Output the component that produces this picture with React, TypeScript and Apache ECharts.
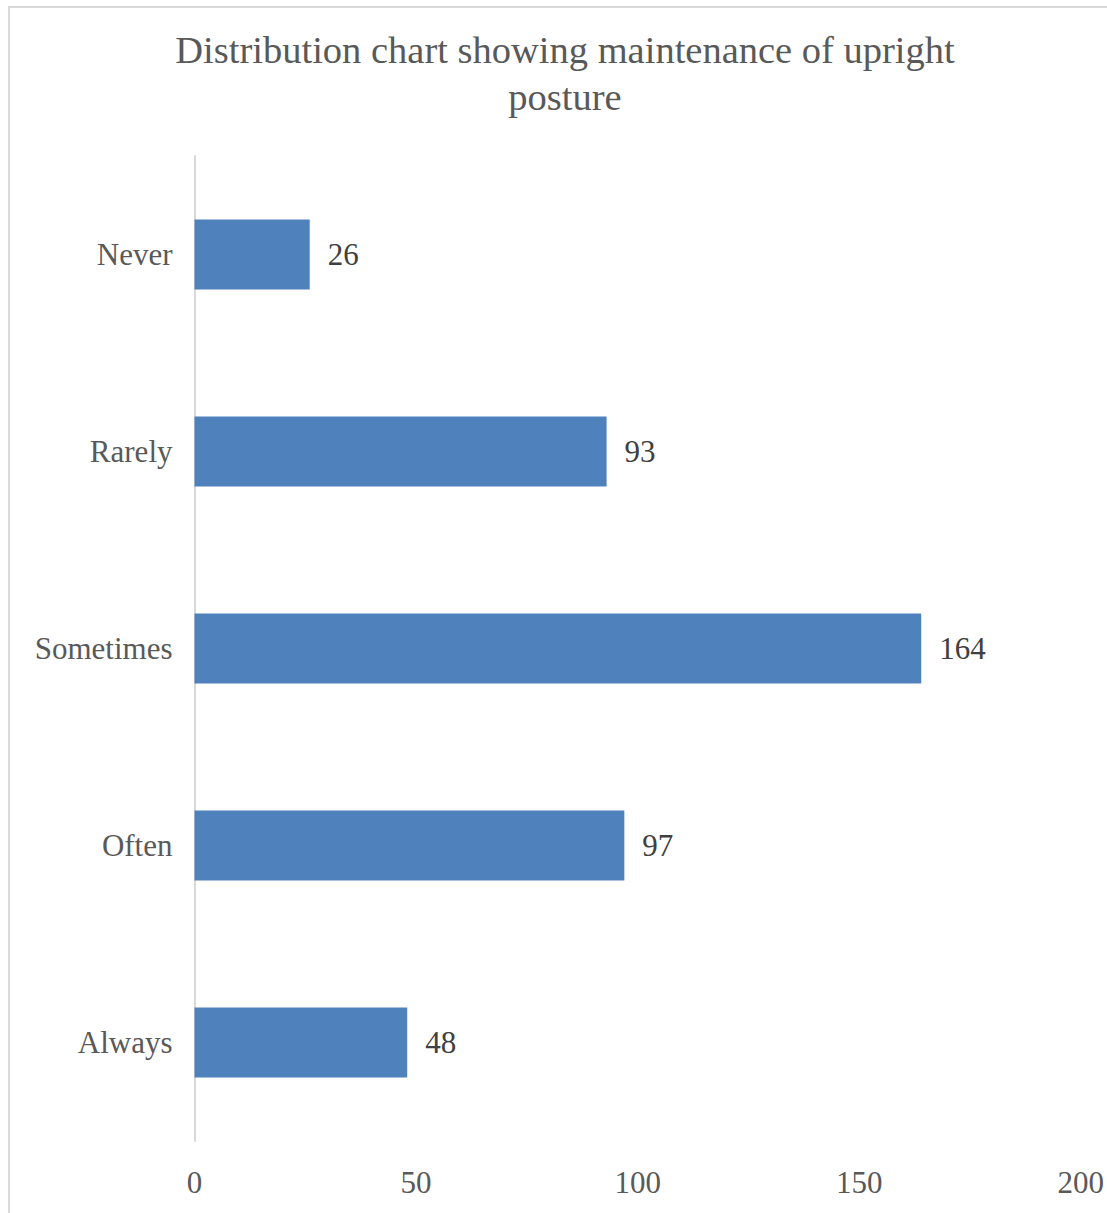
import React, { useEffect, useRef } from "react";
import * as echarts from "echarts";

const categories = ["Never", "Rarely", "Sometimes", "Often", "Always"];
const values = [26, 93, 164, 97, 48];
const titleText = "Distribution chart showing maintenance of upright\nposture";

export default function App() {
  const ref = useRef<HTMLDivElement>(null);
  useEffect(() => {
    if (!ref.current) return;
    const chart = echarts.init(ref.current, null, { renderer: "svg" });
    const font = "'Liberation Serif', 'Times New Roman', serif";
    chart.setOption({
      animation: false,
      backgroundColor: "#ffffff",
      textStyle: { fontFamily: font },
      title: {
        text: titleText,
        left: 560,
        top: 21,
        textAlign: "center",
        textStyle: {
          fontFamily: font,
          fontSize: 38.5,
          fontWeight: "normal",
          color: "#595959",
          lineHeight: 47,
        },
      },
      graphic: [
        {
          type: "rect",
          shape: { x: 9, y: 7, width: 1200, height: 1300 },
          style: { fill: "none", stroke: "#d9d9d9", lineWidth: 2 },
          silent: true,
        },
      ],
      grid: { left: 194.5, right: 25, top: 156, bottom: 72, containLabel: false },
      xAxis: {
        type: "value",
        min: 0,
        max: 200,
        interval: 50,
        axisLine: { show: false },
        axisTick: { show: false },
        splitLine: { show: false },
        axisLabel: {
          fontFamily: font,
          fontSize: 31,
          color: "#595959",
          margin: 26,
        },
      },
      yAxis: {
        type: "category",
        data: categories,
        inverse: true,
        axisLine: { show: true, lineStyle: { color: "#d9d9d9", width: 2 } },
        axisTick: { show: false },
        axisLabel: {
          fontFamily: font,
          fontSize: 31,
          color: "#595959",
          margin: 22,
        },
      },
      series: [
        {
          type: "bar",
          data: values,
          barWidth: 70,
          itemStyle: { color: "#4f81bd" },
          label: {
            show: true,
            position: "right",
            distance: 18,
            fontFamily: font,
            fontSize: 31,
            color: "#404040",
          },
        },
      ],
    });
    return () => chart.dispose();
  }, []);
  return (
    <div
      ref={ref}
      style={{ position: "absolute", left: 0, top: 0, width: 1107, height: 1213 }}
    />
  );
}
